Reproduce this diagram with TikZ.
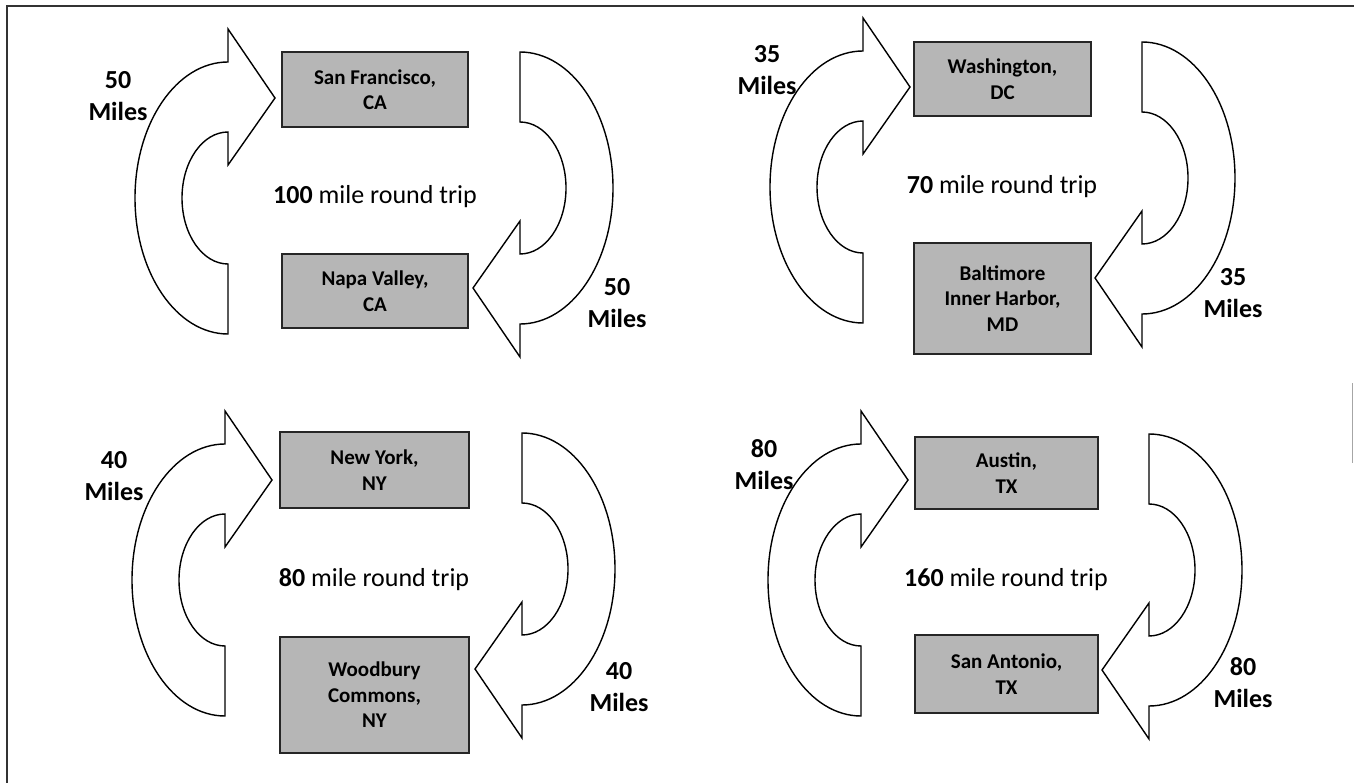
\documentclass[tikz,border=0pt]{standalone}
\usepackage{fontspec}
\setmainfont{Carlito}
\usepackage{xcolor}
\usepackage{tikz}
\definecolor{cityfill}{RGB}{182,182,182}

% curved block arrow: centre (#1,#2), turned by #3 degrees
\newcommand{\tripArrow}[3]{%
  \begin{scope}[shift={(#1,#2)}, rotate=#3]
    \draw[tripline] (0,136) arc[start angle=270, end angle=90, x radius=93pt, y radius=136pt]
      -- (0,-169) -- (47,-100) -- (0,-33) -- (0,-66)
      arc[start angle=90, end angle=270, x radius=46pt, y radius=66pt] -- cycle;
  \end{scope}}

\begin{document}
\begin{tikzpicture}[x=1pt, y=-1pt,
  city/.style={draw=black!85, line width=1.6pt, fill=cityfill, align=center, inner sep=0pt,
    font=\bfseries\fontsize{21}{25.5}\selectfont},
  dist/.style={align=center, font=\bfseries\fontsize{26}{32}\selectfont},
  trip/.style={font=\fontsize{26}{31}\selectfont},
  tripline/.style={draw=black, line width=1.4pt, fill=white, line join=miter}]
\useasboundingbox (0,0) rectangle (1354,783);

% Page frame
\draw[line width=1.5pt, black!80] (7,783) -- (7,6) -- (1354,6);
\draw[line width=0.8pt, black!35] (1352,383) -- (1352,463);

% Arrows (left one up, right one down)
\tripArrow{228}{198}{0}
\tripArrow{520}{188}{180}
\tripArrow{863}{187}{0}
\tripArrow{1142}{178}{180}
\tripArrow{225}{580}{0}
\tripArrow{522}{569}{180}
\tripArrow{861}{580}{0}
\tripArrow{1149}{570}{180}

% City boxes
\node[city, minimum width=186, minimum height=75] (sf) at (375,89.5) {San Francisco,\\CA};
\node[city, minimum width=186, minimum height=74] (napa) at (375,291) {Napa Valley,\\CA};
\node[city, minimum width=177, minimum height=74] (dc) at (1002.5,79) {Washington,\\DC};
\node[city, minimum width=177, minimum height=111] (balt) at (1002.5,298.5) {Baltimore\\Inner Harbor,\\MD};
\node[city, minimum width=189, minimum height=76] (ny) at (374.5,470) {New York,\\NY};
\node[city, minimum width=189, minimum height=116] (wood) at (374.5,695) {Woodbury\\Commons,\\NY};
\node[city, minimum width=183, minimum height=72] (aus) at (1006.5,473) {Austin,\\TX};
\node[city, minimum width=183, minimum height=78] (sa) at (1006.5,674) {San Antonio,\\TX};

% Round trip totals
\node[trip] (tripa) at (375,197) {\textbf{100} mile round trip};
\node[trip] (tripb) at (1002,187) {\textbf{70} mile round trip};
\node[trip] (tripc) at (374,580) {\textbf{80} mile round trip};
\node[trip] (tripd) at (1006,580) {\textbf{160} mile round trip};

% Leg distances
\node[dist] (sfgo) at (118,96) {50\\Miles};
\node[dist] (sfback) at (617,303) {50\\Miles};
\node[dist] (dcgo) at (767,70) {35\\Miles};
\node[dist] (dcback) at (1233,293) {35\\Miles};
\node[dist] (nygo) at (114,476) {40\\Miles};
\node[dist] (nyback) at (619,687) {40\\Miles};
\node[dist] (ausgo) at (764,465) {80\\Miles};
\node[dist] (ausback) at (1243,683) {80\\Miles};
\end{tikzpicture}
\end{document}
